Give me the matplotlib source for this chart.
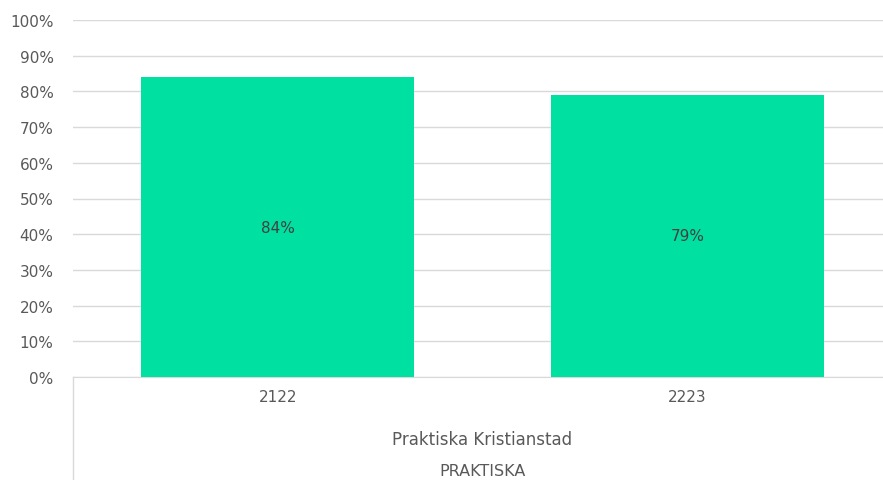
import matplotlib
matplotlib.use('Agg')
import matplotlib.pyplot as plt
from matplotlib.ticker import FuncFormatter, MultipleLocator

years = ['2122', '2223']
shares = [84, 79]
group_label = 'Praktiska Kristianstad'
top_label = 'PRAKTISKA'

plt.rcParams['font.family'] = ['DejaVu Sans']

fig = plt.figure(figsize=(8.83, 4.81), dpi=100)
W, H = 883, 481
ax = fig.add_axes([73 / W, (H - 378) / H, (W - 73) / W, (378 - 21) / H])

x = list(range(len(years)))
bars = ax.bar(x, shares, width=0.666, color='#00E0A0', zorder=3)
ax.bar_label(bars, labels=[f'{v}%' for v in shares], label_type='center',
             color='#404040', fontsize=11)

ax.set_ylim(0, 100)
ax.set_xlim(-0.5, 1.478)
ax.yaxis.set_major_locator(MultipleLocator(10))
ax.yaxis.set_major_formatter(FuncFormatter(lambda v, _: f'{v:.0f}%'))
ax.set_xticks(x)
ax.set_xticklabels(years)
ax.tick_params(axis='both', length=0, labelsize=11, labelcolor='#595959')
ax.tick_params(axis='y', pad=14)
ax.tick_params(axis='x', pad=9)
ax.grid(axis='y', color='#d9d9d9', linewidth=1, zorder=0)

for side in ['top', 'right', 'left']:
    ax.spines[side].set_visible(False)
ax.spines['bottom'].set_color('#d9d9d9')

# multi-level category axis: left separator and group labels
ax.plot([0, 0], [0, -0.3], transform=ax.transAxes, color='#d9d9d9',
        linewidth=1, clip_on=False)
trans = ax.get_xaxis_transform()
ax.text(0.5, -0.174, group_label, transform=trans, ha='center', va='center',
        fontsize=12, color='#595959')
ax.text(0.5, -0.262, top_label, transform=trans, ha='center', va='center',
        fontsize=11.5, color='#595959')

fig.savefig('out.png', dpi=100)
